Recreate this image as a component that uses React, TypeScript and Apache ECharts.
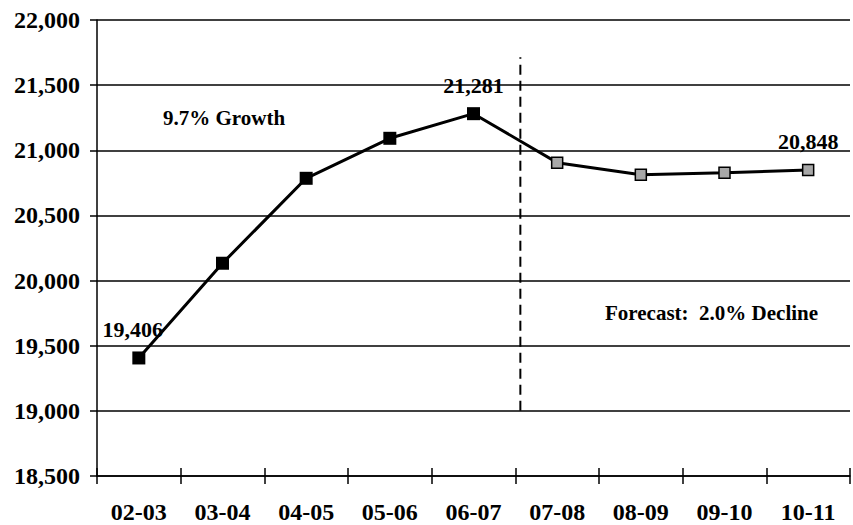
import React, { useEffect, useRef } from "react";
import * as echarts from "echarts";

const categories = ["02-03", "03-04", "04-05", "05-06", "06-07", "07-08", "08-09", "09-10", "10-11"];
const actualValues = [19406, 20133, 20785, 21092, 21281];
const forecastValues = [20905, 20813, 20828, 20848];
const labelledIndexes = [0, 4, 8];
const dividerX = 4.56;
const dividerRange = [19000, 21715];

const FONT = "'Liberation Serif', 'Times New Roman', serif";

export default function App() {
  const ref = useRef<HTMLDivElement>(null);
  useEffect(() => {
    if (!ref.current) return;
    const chart = echarts.init(ref.current, undefined, { renderer: "svg" });
    const all = [...actualValues, ...forecastValues];
    const data = all.map((v, i) => {
      const isForecast = i >= actualValues.length;
      const labelled = labelledIndexes.includes(i);
      return {
        value: v,
        symbolSize: isForecast ? 11 : 13,
        itemStyle: isForecast
          ? { color: "#a8a8a8", borderColor: "#000", borderWidth: 1.5 }
          : { color: "#000", borderColor: "#000", borderWidth: 0 },
        label: labelled
          ? {
              show: true,
              position: "top",
              distance: 11,
              offset: i === 0 ? [-6, 0] : [0, 0],
              formatter: (p: any) => p.value.toLocaleString("en-US"),
              fontFamily: FONT,
              fontWeight: "bold",
              fontSize: 22,
              color: "#000",
            }
          : { show: false },
      };
    });
    chart.setOption({
      animation: false,
      backgroundColor: "#fff",
      grid: { left: 97, right: 3, top: 20, bottom: 49, containLabel: false },
      xAxis: [
        {
          type: "category",
          data: categories,
          boundaryGap: true,
          axisLine: { show: true, onZero: false, lineStyle: { color: "#000", width: 1.5 } },
          axisTick: { show: true, length: 8, lineStyle: { color: "#000", width: 1.5 } },
          axisLabel: {
            color: "#000",
            fontFamily: FONT,
            fontWeight: "bold",
            fontSize: 24,
            margin: 24,
          },
          splitLine: { show: false },
        },
        {
          type: "category",
          data: categories,
          boundaryGap: true,
          position: "bottom",
          axisLine: { show: false, onZero: false },
          axisTick: { show: true, inside: true, length: 8, lineStyle: { color: "#000", width: 1.5 } },
          axisLabel: { show: false },
          splitLine: { show: false },
        },
        {
          type: "value",
          min: -0.5,
          max: 8.5,
          show: false,
        },
      ],
      yAxis: {
        type: "value",
        min: 18500,
        max: 22000,
        interval: 500,
        axisLine: { show: true, onZero: false, lineStyle: { color: "#000", width: 1.5 } },
        axisTick: { show: true, length: 7, lineStyle: { color: "#000", width: 1.5 } },
        axisLabel: {
          color: "#000",
          fontFamily: FONT,
          fontWeight: "bold",
          fontSize: 24,
          margin: 17,
          formatter: (v: number) => v.toLocaleString("en-US"),
        },
        splitLine: { show: true, lineStyle: { color: "#000", width: 1.5 } },
      },
      series: [
        {
          type: "line",
          xAxisIndex: 2,
          data: [
            [dividerX, dividerRange[0]],
            [dividerX, dividerRange[1]],
          ],
          symbol: "none",
          lineStyle: { color: "#000", width: 2, type: [10, 6] },
          silent: true,
          z: 1,
        },
        {
          type: "line",
          xAxisIndex: 0,
          data,
          symbol: "rect",
          lineStyle: { color: "#000", width: 3 },
          z: 3,
        },
      ],
      graphic: [
        {
          type: "text",
          left: 163,
          top: 107,
          style: {
            text: "9.7% Growth",
            fontFamily: FONT,
            fontWeight: "bold",
            fontSize: 21,
            fill: "#000",
          },
        },
        {
          type: "text",
          left: 605,
          top: 302,
          style: {
            text: "Forecast:  2.0% Decline",
            fontFamily: FONT,
            fontWeight: "bold",
            fontSize: 21,
            fill: "#000",
          },
        },
      ],
    });
    return () => chart.dispose();
  }, []);
  return <div ref={ref} style={{ width: 853, height: 525, position: "absolute", left: 0, top: 0 }} />;
}
